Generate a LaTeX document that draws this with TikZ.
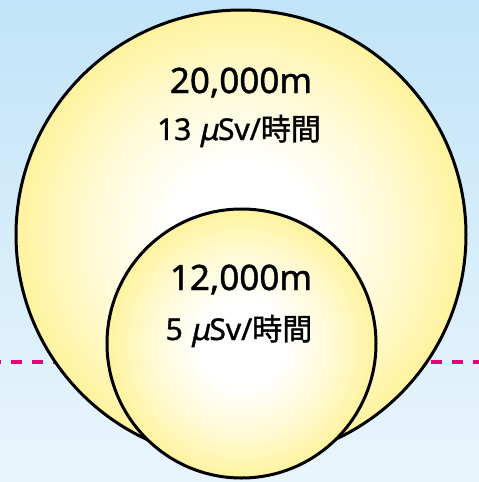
\documentclass[tikz,border=0pt]{standalone}
\usepackage{fontspec}
\setmainfont{Noto Sans}[FakeBold=1.2]
\newfontfamily\slmu{Noto Sans}[FakeSlant=0.22, FakeBold=1.2]
\newfontfamily\jp{Noto Sans CJK JP}[FakeBold=1.2]
\definecolor{bgtop}{HTML}{C2E4F8}
\definecolor{bgbot}{HTML}{E9F5FC}
\definecolor{edgeyel}{HTML}{FFF39E}
\definecolor{dashpink}{HTML}{E8007D}
\pgfdeclareradialshading{glow}{\pgfpoint{0bp}{0bp}}{%
  color(0bp)=(white); color(8bp)=(white); color(17bp)=(edgeyel!45!white);
  color(25bp)=(edgeyel); color(100bp)=(edgeyel)}
\tikzset{
  zone/.style={draw=black, line width=3pt, shading=glow},
  bigtxt/.style={font=\fontsize{35}{38}\selectfont, inner sep=0pt, anchor=base},
  smalltxt/.style={font=\fontsize{30}{34}\selectfont, inner sep=0pt, anchor=base},
  level/.style={draw=dashpink, line width=4pt, dash pattern=on 11pt off 10pt}
}
\begin{document}
\begin{tikzpicture}[x=1pt,y=-1pt]
\useasboundingbox (0,0) rectangle (479,482);
\shade[top color=bgtop, bottom color=bgbot] (0,0) rectangle (479,482);
\coordinate (l1) at (0,362);
\coordinate (l2) at (479,362);
\draw[level, dash phase=10pt] (l1) -- (l2);
\node[circle, zone, minimum size=450pt, inner sep=0pt] (big) at (241,235) {};
\node[circle, zone, minimum size=269pt, inner sep=0pt] (small) at (241.5,343.5) {};
\node[bigtxt] (h1) at (241,93) {20,000m};
\node[smalltxt] (r1) at (239,140) {13 {\slmu μ}Sv/{\jp 時間}};
\node[bigtxt] (h2) at (241,290) {12,000m};
\node[smalltxt] (r2) at (239,340) {5 {\slmu μ}Sv/{\jp 時間}};
\end{tikzpicture}
\end{document}
